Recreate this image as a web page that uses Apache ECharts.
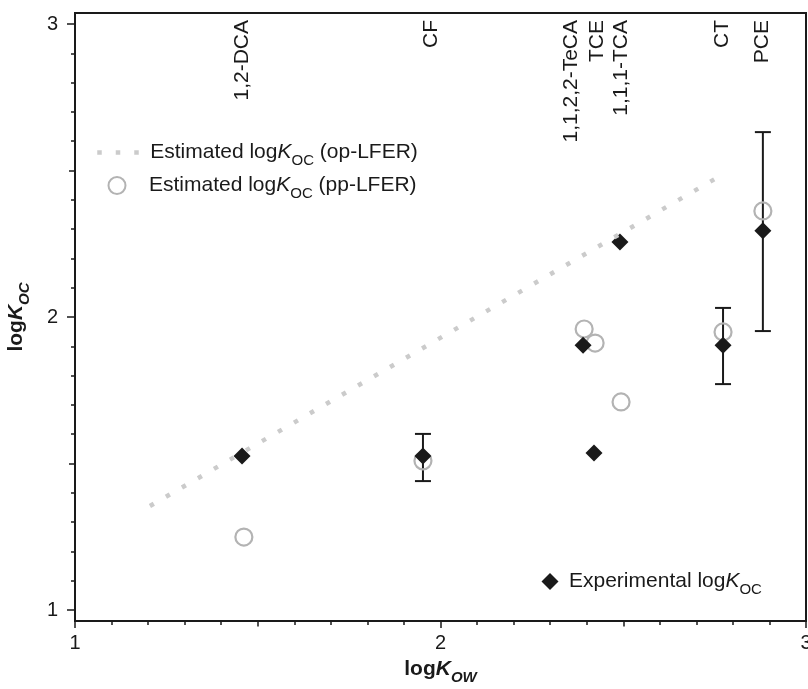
<!DOCTYPE html>
<html>
<head>
<meta charset="utf-8">
<script src="https://cdn.jsdelivr.net/npm/echarts@6/dist/echarts.min.js"></script>
<style>html,body{margin:0;padding:0;background:#fff}</style>
</head>
<body>
<div id="MyChart" style="width:808px;height:689px"></div>
<script>
// compounds, ordered by logKow
const compounds = ['1,2-DCA', 'CF', '1,1,2,2-TeCA', 'TCE', '1,1,1-TCA', 'CT', 'PCE']
const labelKow = [1.457, 1.974, 2.357, 2.428, 2.494, 2.770, 2.880]   // where the names sit
// experimental logKoc (diamonds)
const expKow = [1.457, 1.952, 2.390, 2.420, 2.491, 2.773, 2.882]
const expKoc = [1.526, 1.526, 1.904, 1.536, 2.256, 1.904, 2.294]
// pp-LFER estimates (open circles)
const ppKow = [1.462, 1.952, 2.393, 2.423, 2.494, 2.773, 2.882]
const ppKoc = [1.249, 1.509, 1.959, 1.911, 1.710, 1.949, 2.362]
// op-LFER estimate (dotted line)
const opKow = [1.205, 2.770]
const opKoc = [1.355, 2.485]
// error bars
const errKow = [1.952, 2.773, 2.882]
const errLow = [1.440, 1.771, 1.952]
const errHigh = [1.601, 2.031, 2.631]
// ticks
const majorTicks = [1, 2, 3]
const midTicks = [1.5, 2.5]
const minorTicks = [1.1, 1.2, 1.3, 1.4, 1.6, 1.7, 1.8, 1.9, 2.1, 2.2, 2.3, 2.4, 2.6, 2.7, 2.8, 2.9]

const FONT = '"Liberation Sans", Arial, sans-serif'
const INK = '#1a1a1a'
const DOTS = { color: '#cbcbcb', width: 4.5, type: [4.5, 14], cap: 'butt', opacity: 1 }

let myChart = echarts.init(document.getElementById('MyChart'))

// one axis per tick length
function xAx (ticks, len, labels) {
  return {
    type: 'value', min: 1, max: 3, position: 'bottom',
    axisLine: { show: false }, splitLine: { show: false },
    axisTick: { show: true, customValues: ticks, length: len, lineStyle: { color: INK, width: 1.5 } },
    axisLabel: labels ? { customValues: labels, fontSize: 20, color: INK, fontFamily: FONT, margin: 12 } : { show: false }
  }
}
function yAx (ticks, len, labels) {
  return {
    type: 'value', min: 0.9625, max: 3.0375, position: 'left',
    axisLine: { show: false }, splitLine: { show: false },
    axisTick: { show: true, customValues: ticks, length: len, lineStyle: { color: INK, width: 1.5 } },
    axisLabel: labels ? { customValues: labels, fontSize: 20, color: INK, fontFamily: FONT, margin: 17 } : { show: false }
  }
}

const nameStyle = {
  fontSize: 21, fontWeight: 'bold', color: INK, fontFamily: FONT,
  rich: {
    k: { fontStyle: 'italic', fontWeight: 'bold', fontSize: 21 },
    s: { fontStyle: 'italic', fontWeight: 'bold', fontSize: 15, padding: [16, 0, 0, 0] }
  }
}
function legendText (padLeft) {
  return {
    fontSize: 21, color: INK, fontFamily: FONT, padding: [0, 0, 0, padLeft],
    rich: {
      i: { fontStyle: 'italic', fontSize: 21 },
      s: { fontSize: 15, padding: [16, 0, 0, 0] }
    }
  }
}
const legendNames = {
  op: 'Estimated log{i|K}{s|OC} (op-LFER)',
  pp: 'Estimated log{i|K}{s|OC} (pp-LFER)',
  exp: 'Experimental log{i|K}{s|OC}'
}

let xA = xAx(majorTicks, 7, majorTicks)
xA.name = 'log{k|K}{s|OW}'
xA.nameLocation = 'middle'
xA.nameGap = 33
xA.nameTextStyle = nameStyle
let yA = yAx(majorTicks, 8, majorTicks)
yA.name = 'log{k|K}{s|OC}'
yA.nameLocation = 'middle'
yA.nameGap = 43
yA.nameTextStyle = nameStyle

let option = {
  animation: false,
  backgroundColor: '#fff',
  grid: {
    left: 75, right: 2, top: 13, bottom: 68, outerBoundsMode: 'none',
    show: true, borderColor: INK, borderWidth: 2
  },
  xAxis: [xA, xAx(midTicks, 5.5, null), xAx(minorTicks, 4, null)],
  yAxis: [yA, yAx(midTicks, 6, null), yAx(minorTicks, 4, null)],
  legend: [
    { data: ['op'], left: 95, top: 142, padding: 0, itemWidth: 48, itemHeight: 14,
      lineStyle: DOTS, formatter: n => legendNames[n], textStyle: legendText(0) },
    { data: ['pp'], left: 107.5, top: 175, padding: 0, itemWidth: 17, itemHeight: 17,
      formatter: n => legendNames[n], textStyle: legendText(18.5) },
    { data: ['exp'], left: 541.5, top: 571, padding: 0, itemWidth: 17, itemHeight: 17,
      formatter: n => legendNames[n], textStyle: legendText(5.5) }
  ],
  series: [
    {
      name: 'op', type: 'line', symbol: 'none',
      data: opKow.map((x, i) => [x, opKoc[i]]),
      itemStyle: { color: '#cbcbcb', opacity: 0 },
      lineStyle: DOTS
    },
    {
      name: 'pp', type: 'scatter', symbol: 'circle', symbolSize: 17,
      data: ppKow.map((x, i) => [x, ppKoc[i]]),
      itemStyle: { color: 'rgba(255,255,255,0)', borderColor: '#b3b3b3', borderWidth: 2.2, opacity: 1 }
    },
    {
      name: 'err', type: 'custom',
      data: errKow.map((x, i) => [x, errLow[i], errHigh[i]]),
      encode: { x: 0, y: [1, 2] },
      renderItem: function (params, api) {
        const x = api.value(0)
        const lo = api.coord([x, api.value(1)])
        const hi = api.coord([x, api.value(2)])
        const half = 8
        const st = { stroke: INK, lineWidth: 2 }
        return {
          type: 'group',
          children: [
            { type: 'line', shape: { x1: lo[0], y1: lo[1], x2: hi[0], y2: hi[1] }, style: st },
            { type: 'line', shape: { x1: lo[0] - half, y1: lo[1], x2: lo[0] + half, y2: lo[1] }, style: st },
            { type: 'line', shape: { x1: hi[0] - half, y1: hi[1], x2: hi[0] + half, y2: hi[1] }, style: st }
          ]
        }
      }
    },
    {
      name: 'exp', type: 'scatter', symbol: 'diamond', symbolSize: 17,
      data: expKow.map((x, i) => [x, expKoc[i]]),
      itemStyle: { color: INK, opacity: 1 }
    },
    {
      name: 'names', type: 'custom',
      data: labelKow.map(x => [x, 3]),
      renderItem: function (params, api) {
        const p = api.coord([api.value(0), api.value(1)])
        return {
          type: 'text', x: p[0], y: p[1] - 4, rotation: Math.PI / 2,
          style: {
            text: compounds[params.dataIndex], align: 'right', verticalAlign: 'middle',
            fontSize: 21, fontFamily: FONT, fill: INK
          }
        }
      }
    }
  ]
}
myChart.setOption(option)
</script>
</body>
</html>
